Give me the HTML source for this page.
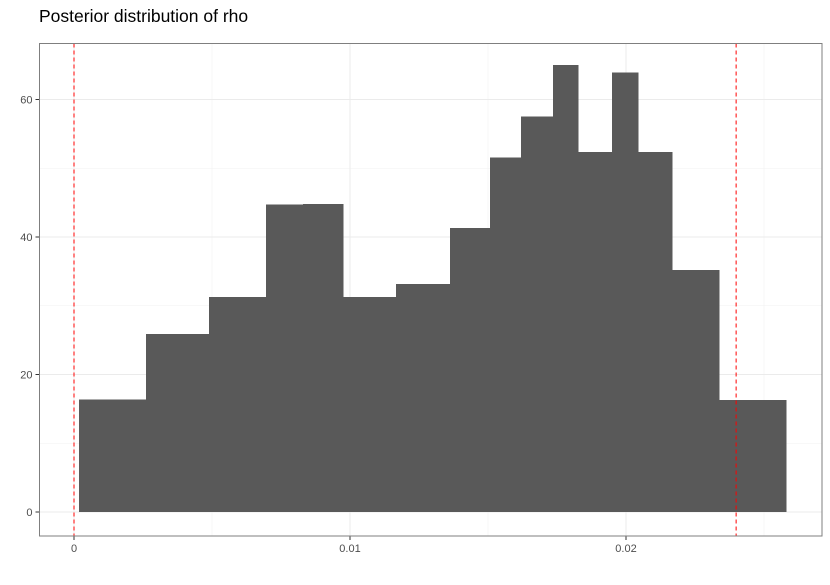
<!DOCTYPE html>
<html><head><meta charset="utf-8"><style>
body{margin:0;background:#fff;font-family:"Liberation Sans",sans-serif;}
</style></head><body>
<svg id="chart" width="830" height="580" xmlns="http://www.w3.org/2000/svg">
<text x="39" y="22" font-size="17.5" fill="#000" font-family="Liberation Sans, sans-serif">Posterior distribution of rho</text>
<g id="grid"></g><g id="bars" shape-rendering="crispEdges"></g><g id="vlines"></g><g id="axes"></g>
<rect x="39.5" y="43.5" width="782.5" height="492.5" fill="none" stroke="#7f7f7f" stroke-width="1"/>
</svg>
<script>
const binLeft = [0.00018,0.00261,0.00489,0.00696,0.0083,0.00975,0.01167,0.01362,0.01507,0.0162,0.01736,0.01826,0.01949,0.02043,0.02167,0.02337];
const binRight = [0.00261,0.00489,0.00696,0.0083,0.00975,0.01167,0.01362,0.01507,0.0162,0.01736,0.01826,0.01949,0.02043,0.02167,0.02337,0.0258];
const density = [16.4,25.9,31.3,44.7,44.8,31.3,33.2,41.3,51.6,57.5,65.0,52.4,63.9,52.4,35.2,16.3];
const xTicks = [0,0.01,0.02];
const xTickLabels = ["0","0.01","0.02"];
const xMinor = [0.005,0.015,0.025];
const yTicks = [0,20,40,60];
const yMinor = [10,30,50];
const refLines = [0,0.02399];

const NS="http://www.w3.org/2000/svg";
const X = v => 74 + v*27600;
const Y = v => 512 - v*6.875;
const L=39.5,R=822,T=43.5,B=536;
function mk(tag,attrs,parent){const e=document.createElementNS(NS,tag);for(const k in attrs)e.setAttribute(k,attrs[k]);document.getElementById(parent).appendChild(e);return e;}

xMinor.forEach(v=>{const e=mk('line',{x1:X(v),x2:X(v),y1:T,y2:B,stroke:'#f2f2f2','stroke-width':0.6},'grid');

});
yMinor.forEach(v=>{const e=mk('line',{x1:L,x2:R,y1:Y(v),y2:Y(v),stroke:'#f2f2f2','stroke-width':0.6},'grid');

});
xTicks.forEach((v,i)=>{const e=mk('line',{x1:X(v),x2:X(v),y1:T,y2:B,stroke:'#ebebeb','stroke-width':1},'grid');


const t=mk('line',{x1:X(v),x2:X(v),y1:B,y2:B+4,stroke:'#333','stroke-width':1},'axes');


const l=mk('text',{x:X(v),y:B+16,'text-anchor':'middle','font-size':11,fill:'#4d4d4d'},'axes');
l.textContent=xTickLabels[i];

});
yTicks.forEach(v=>{const e=mk('line',{x1:L,x2:R,y1:Y(v),y2:Y(v),stroke:'#ebebeb','stroke-width':1},'grid');


const t=mk('line',{x1:L-4,x2:L,y1:Y(v),y2:Y(v),stroke:'#333','stroke-width':1},'axes');


const l=mk('text',{x:L-7,y:Y(v)+4,'text-anchor':'end','font-size':11,fill:'#4d4d4d'},'axes');
l.textContent=String(v);

});
density.forEach((d,i)=>{const e=mk('rect',{x:X(binLeft[i]),y:Y(d),width:X(binRight[i])-X(binLeft[i])+0.5,height:Y(0)-Y(d),fill:'#595959'},'bars');

});
refLines.forEach(v=>{const e=mk('line',{x1:X(v),x2:X(v),y1:T,y2:B,stroke:'#ff0000','stroke-width':1,'stroke-dasharray':'4,3'},'vlines');

});
</script>
</body></html>
